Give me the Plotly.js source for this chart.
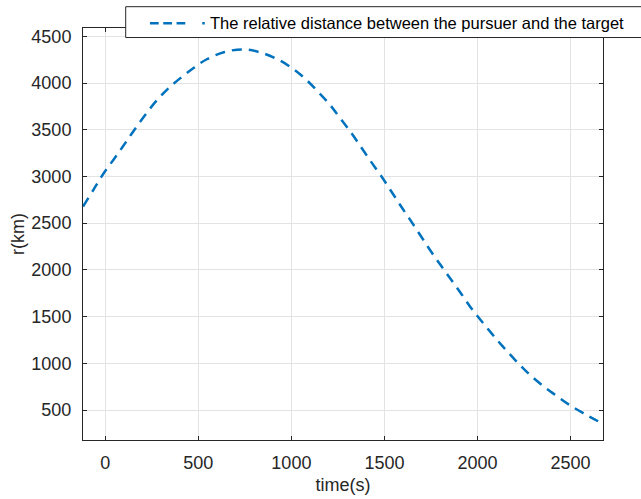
<!DOCTYPE html>
<html>
<head>
<meta charset="utf-8">
<script src="https://cdn.plot.ly/plotly-3.0.1.min.js"></script>
<style>html,body{margin:0;padding:0;background:#fff;}</style>
</head>
<body>
<div id="chart" style="width:641px;height:499px;"></div>
<script>
const timeS = [-120, -64, -14, 43, 96, 150, 204, 266, 332, 400, 480, 543, 641, 739, 829, 918, 998, 1070, 1141, 1204, 1261, 1320, 1373, 1427, 1480, 1534, 1584, 1637, 1695, 1748, 1802, 1855, 1909, 1963, 2016, 2075, 2135, 2203, 2271, 2343, 2418, 2493, 2569, 2675];
const distanceKm = [2678, 2857, 3018, 3177, 3325, 3482, 3630, 3790, 3929, 4047, 4168, 4252, 4332, 4360, 4330, 4262, 4168, 4054, 3912, 3775, 3628, 3472, 3318, 3161, 3012, 2850, 2697, 2540, 2365, 2205, 2052, 1906, 1756, 1600, 1466, 1323, 1183, 1035, 898, 773, 662, 557, 466, 352];
const seriesName = 'The relative distance between the pursuer and the target';
const xTitle = 'time(s)';
const yTitle = 'r(km)';

const FONT = 'Liberation Sans, Arial, Helvetica, sans-serif';
const INK = '#262626';
const BLUE = '#0072BD';

const trace = {
  x: timeS, y: distanceKm, type: 'scatter', mode: 'lines', name: seriesName,
  line: {color: BLUE, width: 2.5, dash: '10px,7px', shape: 'spline', smoothing: 1},
  showlegend: false, hoverinfo: 'skip'
};

const axisCommon = {
  showgrid: true, gridcolor: '#e3e3e3', gridwidth: 1,
  showline: true, linecolor: INK, linewidth: 1, mirror: 'ticks',
  ticks: 'inside', ticklen: 4, tickcolor: INK, tickwidth: 1,
  zeroline: false,
  tickfont: {family: FONT, size: 18, color: INK}
};

const layout = {
  width: 641, height: 499,
  margin: {l: 83, r: 38, t: 28, b: 59, pad: 0},
  paper_bgcolor: '#fff', plot_bgcolor: '#fff',
  font: {family: FONT, color: INK},
  showlegend: false,
  xaxis: Object.assign({}, axisCommon, {
    range: [-120, 2675], tickvals: [0, 500, 1000, 1500, 2000, 2500],
    ticklabelstandoff: 6,
    title: {text: xTitle, font: {family: FONT, size: 18, color: INK}, standoff: 6}
  }),
  yaxis: Object.assign({}, axisCommon, {
    range: [179, 4589], tickvals: [500, 1000, 1500, 2000, 2500, 3000, 3500, 4000, 4500],
    ticklabelstandoff: 7,
    title: {text: yTitle, font: {family: FONT, size: 18, color: INK}, standoff: 2}
  }),
  shapes: [
    {type: 'rect', xref: 'paper', yref: 'paper', x0: 0.0821, x1: 1.09, y0: 0.9769, y1: 1.0517,
     line: {color: INK, width: 1}, fillcolor: '#fff', layer: 'above'},
    {type: 'line', xref: 'paper', yref: 'paper', x0: 0.1288, x1: 0.2365, y0: 1.0114, y1: 1.0114,
     line: {color: BLUE, width: 2.5, dash: '8.7px,4.6px,8.7px,4.6px,8.7px,17px,2.5px,20px'}, layer: 'above'}
  ],
  annotations: [
    {xref: 'paper', yref: 'paper', x: 0.2404, y: 1.0114, xanchor: 'left', yanchor: 'middle',
     text: seriesName, showarrow: false, font: {family: FONT, size: 16.5, color: '#000'}}
  ]
};

Plotly.newPlot('chart', [trace], layout, {staticPlot: true, displayModeBar: false});
</script>
</body>
</html>
